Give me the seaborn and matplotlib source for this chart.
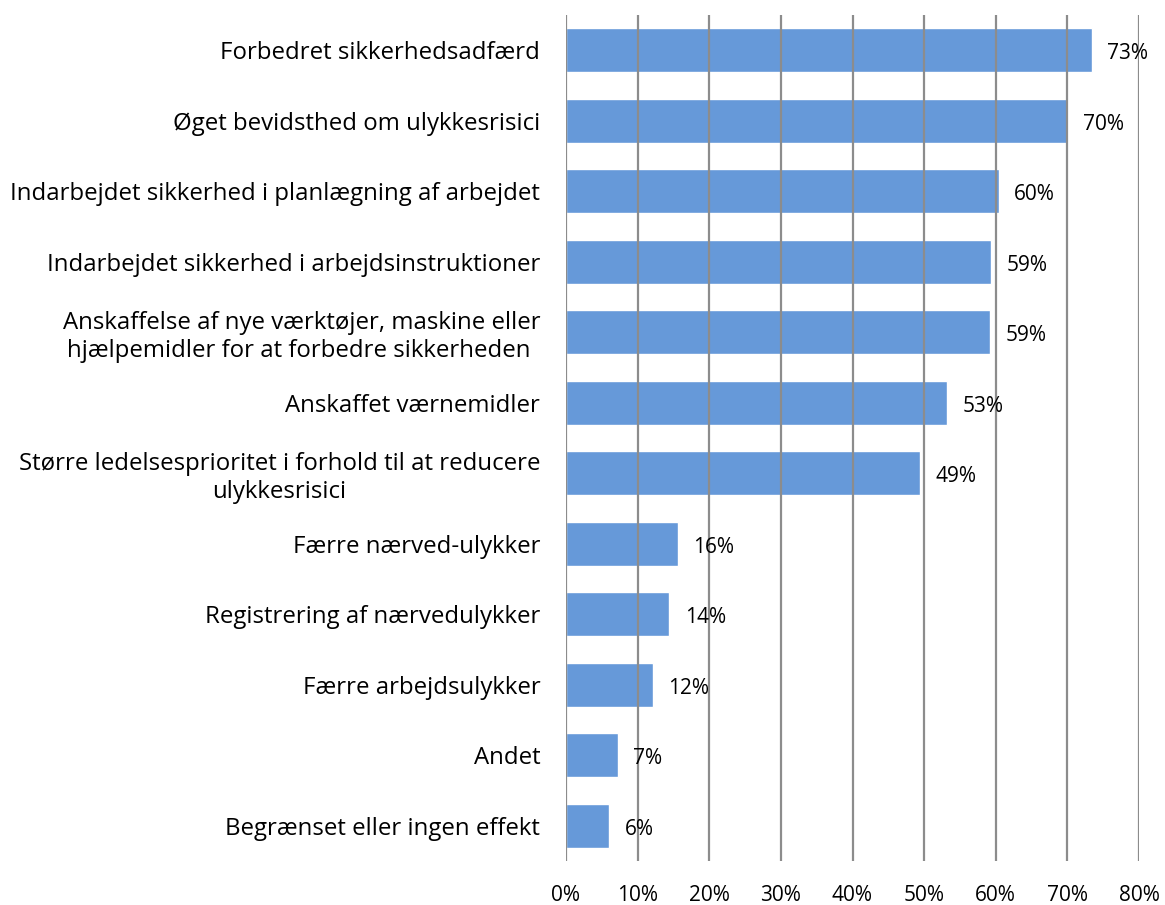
import matplotlib
matplotlib.use("Agg")
import matplotlib.pyplot as plt
import seaborn as sns
import pandas as pd

categories = [
    "Forbedret sikkerhedsadfærd",
    "Øget bevidsthed om ulykkesrisici",
    "Indarbejdet sikkerhed i planlægning af arbejdet",
    "Indarbejdet sikkerhed i arbejdsinstruktioner",
    "Anskaffelse af nye værktøjer, maskine eller\nhjælpemidler for at forbedre sikkerheden ",
    "Anskaffet værnemidler",
    "Større ledelsesprioritet i forhold til at reducere\nulykkesrisici",
    "Færre nærved-ulykker",
    "Registrering af nærvedulykker",
    "Færre arbejdsulykker",
    "Andet",
    "Begrænset eller ingen effekt",
]
values = [73.4, 70.0, 60.4, 59.3, 59.2, 53.2, 49.4, 15.6, 14.4, 12.1, 7.2, 6.0]
tick_values = [0, 10, 20, 30, 40, 50, 60, 70, 80]
tick_labels = [f"{t}%" for t in tick_values]

df = pd.DataFrame({"cat": categories, "val": values})

sns.set_theme(style="white")
plt.rcParams["font.family"] = ["Open Sans", "DejaVu Sans"]

fig = plt.figure(figsize=(11.65, 9.05), dpi=100)
ax = fig.add_axes([566 / 1165, 1 - 861 / 905, (1139 - 566) / 1165, (861 - 15) / 905])

sns.barplot(data=df, y="cat", x="val", orient="h", color="#6699D9",
            saturation=1, width=0.62, ax=ax, zorder=3)

ax.set_xlim(0, 80)
ax.set_ylim(len(categories) - 0.5, -0.5)
ax.set_xticks(tick_values)
ax.set_xticklabels(tick_labels, fontsize=15, color="black")
ax.set_xlabel("")
ax.set_ylabel("")
ax.tick_params(axis="x", length=0, pad=17)
ax.tick_params(axis="y", length=0, pad=18.5)
for lbl in ax.get_yticklabels():
    lbl.set_fontsize(17.3)
    lbl.set_color("black")
    lbl.set_multialignment("center")
    lbl.set_linespacing(1.2)

for x in tick_values:
    ax.axvline(x, color="#8c8c8c", lw=1.6, zorder=4)

for s in ax.spines.values():
    s.set_visible(False)

for i, v in enumerate(values):
    ax.text(v + 2.2, i + 0.05, f"{round(v)}%", va="center", ha="left",
            fontsize=15, color="black", zorder=5)

fig.savefig("out.png", dpi=100)
